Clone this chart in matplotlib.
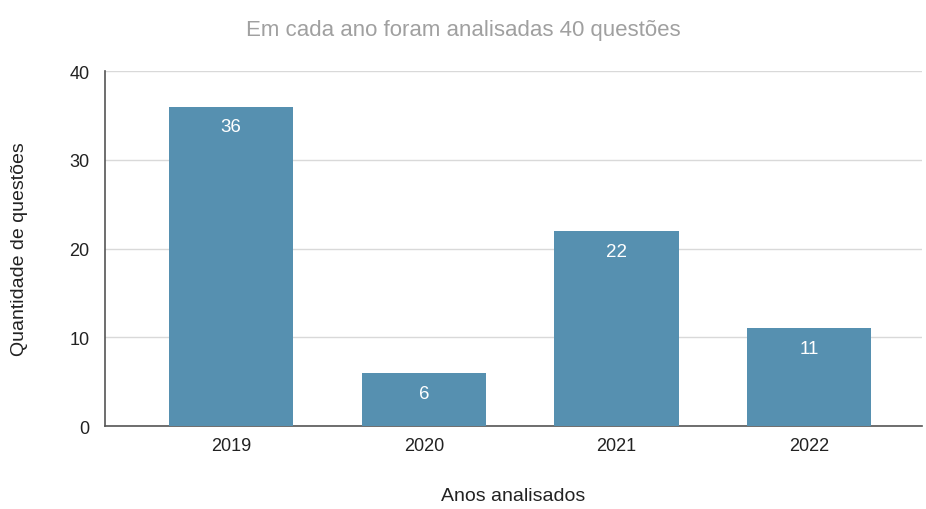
import matplotlib.pyplot as plt

# Data
anos = ['2019', '2020', '2021', '2022']
questoes = [36, 6, 22, 11]
yticks = [0, 10, 20, 30, 40]

plt.rcParams['font.family'] = ['Liberation Sans', 'DejaVu Sans']

fig = plt.figure(figsize=(9.26, 5.10), dpi=100)
ax = fig.add_axes([0.1134, 0.1627, 0.8823, 0.6961])

x = list(range(len(anos)))
bars = ax.bar(x, questoes, width=0.645, color='#5690b0', zorder=3)

# Value labels inside the top of each bar
for xi, v in zip(x, questoes):
    ax.text(xi, v - 2.3, str(v), ha='center', va='center',
            color='white', fontsize=13.5, zorder=4)

ax.set_xlim(-0.655, 3.585)
ax.set_ylim(0, 40)
ax.set_xticks(x)
ax.set_xticklabels(anos, fontsize=13, color='#222222')
ax.set_yticks(yticks)
ax.set_yticklabels([str(t) for t in yticks], fontsize=13, color='#222222')
ax.tick_params(axis='x', length=0, pad=8)
ax.tick_params(axis='y', length=0, pad=11)

ax.grid(axis='y', color='#d9d9d9', linewidth=1, zorder=0)
for s in ['top', 'right']:
    ax.spines[s].set_visible(False)
ax.spines['left'].set_color('#555555')
ax.spines['bottom'].set_color('#555555')
ax.spines['left'].set_linewidth(1.2)
ax.spines['bottom'].set_linewidth(1.2)

ax.set_xlabel('Anos analisados', fontsize=14, color='#222222', labelpad=24)
ax.set_ylabel('Quantidade de questões', fontsize=14, color='#222222', labelpad=30)

fig.text(0.5, 0.94, 'Em cada ano foram analisadas 40 questões',
         ha='center', va='center', fontsize=16, color='#a0a0a0')

fig.savefig('out.png', dpi=100)
